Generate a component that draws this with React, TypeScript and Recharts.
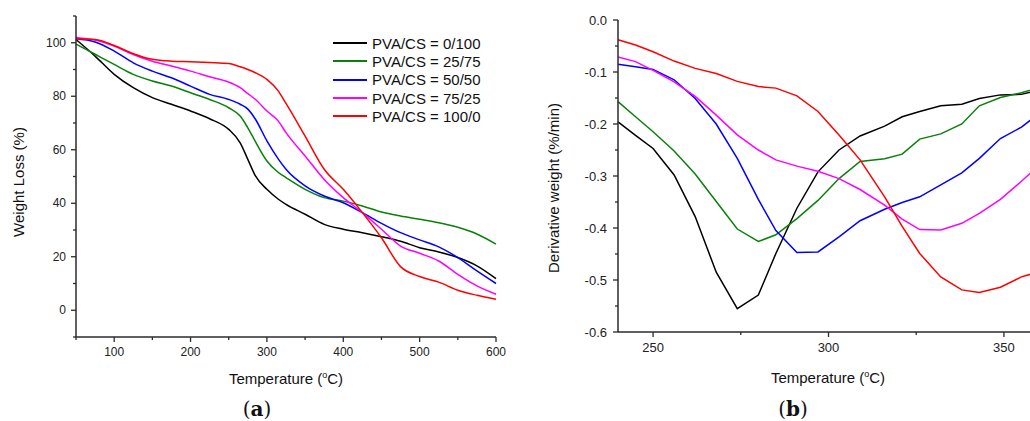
import { LineChart, Line, XAxis, YAxis } from "recharts";

// panel (a): TGA, weight loss vs temperature
const tgaTemps = [50, 75, 100, 125, 150, 175, 200, 225, 250, 265, 275, 285, 300, 315, 325, 350, 375, 400, 425, 450, 475, 500, 525, 550, 575, 600];
const tga0 = [101.2, 95, 88.2, 83.2, 79.5, 77, 74.5, 71.6, 67.6, 62.6, 56.4, 50.2, 45.2, 41.5, 39.6, 35.9, 32.1, 30.3, 29, 27.5, 25.8, 23.4, 21.8, 19.7, 16.6, 11.8];
const tga25 = [99.5, 95.7, 91.9, 88.2, 85.7, 83.8, 81.3, 78.8, 75.7, 72.6, 68.2, 63, 55.8, 51.5, 49.6, 45.2, 42.1, 40.8, 39, 36.7, 35.2, 34, 32.7, 31, 28.5, 24.7];
const tga50 = [101.5, 100.3, 96.9, 92.5, 89.4, 86.9, 83.8, 80.7, 78.8, 77, 75.2, 71.4, 63.3, 56.5, 52.7, 46.5, 42.7, 40.2, 36.5, 32.5, 29, 26.3, 23.7, 19.7, 14.7, 10];
const tga75 = [102, 101, 98.8, 95.6, 93.1, 91.3, 89.4, 87.3, 85.3, 83.2, 81, 78.8, 74.5, 70.7, 66.4, 57.7, 48.9, 42.1, 36.5, 30.3, 24, 21.3, 18.4, 13.4, 9.1, 6];
const tga100 = [101.5, 101.2, 99, 95.9, 93.8, 93.1, 92.9, 92.6, 92.2, 91, 90, 88.8, 86.3, 81.9, 77.3, 65.1, 52.7, 45.2, 36.5, 27.1, 16.3, 12.6, 10.5, 7.5, 5.6, 4.1];

// panel (b): DTG, derivative weight vs temperature
const dtgTemps = [240, 245, 250, 256, 262, 268, 274, 280, 285, 291, 297, 303, 309, 316, 321, 326, 332, 338, 343, 349, 355, 360];
const dtg0 = [-0.196, -0.222, -0.247, -0.298, -0.378, -0.485, -0.555, -0.529, -0.449, -0.362, -0.292, -0.25, -0.223, -0.204, -0.186, -0.176, -0.165, -0.162, -0.151, -0.144, -0.143, -0.135];
const dtg25 = [-0.157, -0.186, -0.215, -0.252, -0.296, -0.349, -0.402, -0.426, -0.413, -0.382, -0.347, -0.305, -0.272, -0.267, -0.258, -0.229, -0.219, -0.2, -0.165, -0.149, -0.14, -0.13];
const dtg50 = [-0.085, -0.09, -0.095, -0.115, -0.151, -0.2, -0.266, -0.345, -0.405, -0.447, -0.446, -0.417, -0.386, -0.364, -0.351, -0.34, -0.317, -0.294, -0.266, -0.228, -0.206, -0.18];
const dtg75 = [-0.071, -0.08, -0.097, -0.119, -0.147, -0.183, -0.221, -0.25, -0.269, -0.281, -0.291, -0.305, -0.326, -0.356, -0.383, -0.403, -0.404, -0.391, -0.372, -0.345, -0.31, -0.28];
const dtg100 = [-0.038, -0.048, -0.061, -0.079, -0.093, -0.103, -0.118, -0.128, -0.131, -0.146, -0.176, -0.221, -0.269, -0.34, -0.397, -0.449, -0.494, -0.519, -0.524, -0.514, -0.494, -0.484];

const seriesNames = ["PVA/CS = 0/100", "PVA/CS = 25/75", "PVA/CS = 50/50", "PVA/CS = 75/25", "PVA/CS = 100/0"];
const seriesColors = ["#000000", "#0a800a", "#0000ff", "#ff00ff", "#ff0000"];

const tgaXTicks = [50, 100, 150, 200, 250, 300, 350, 400, 450, 500, 550, 600];
const tgaXLabels = [100, 200, 300, 400, 500, 600];
const tgaYTicks = [-10, 0, 10, 20, 30, 40, 50, 60, 70, 80, 90, 100, 110];
const tgaYLabels = [0, 20, 40, 60, 80, 100];

const dtgXTicks = [250, 275, 300, 325, 350];
const dtgXLabels = [250, 300, 350];
const dtgYTicks = [-0.6, -0.55, -0.5, -0.45, -0.4, -0.35, -0.3, -0.25, -0.2, -0.15, -0.1, -0.05, 0];
const dtgYLabels = [-0.6, -0.5, -0.4, -0.3, -0.2, -0.1, 0];

const tgaData = tgaTemps.map((t, i) => ({ t, s0: tga0[i], s1: tga25[i], s2: tga50[i], s3: tga75[i], s4: tga100[i] }));
const dtgData = dtgTemps.map((t, i) => ({ t, s0: dtg0[i], s1: dtg25[i], s2: dtg50[i], s3: dtg75[i], s4: dtg100[i] }));

const FONT = "'Liberation Sans', Arial, sans-serif";
const AXIS = "#2b2b2b";

const near = (list: number[], v: number) => list.some((l) => Math.abs(l - v) < 1e-6);

const xTick = (labels: number[], size: number) => (props: any) => {
  const { x, y, payload } = props;
  const major = near(labels, payload.value);
  return (
    <g>
      <line x1={x} x2={x} y1={y} y2={y + (major ? 5 : 3)} stroke={AXIS} strokeWidth={1.3} />
      {major && (
        <text x={x} y={y + 15} textAnchor="middle" dominantBaseline="central" fontSize={size} fontFamily={FONT} fill="#222">
          {payload.value}
        </text>
      )}
    </g>
  );
};

const yTick = (labels: number[], fmt: (v: number) => string, gap: number, size: number) => (props: any) => {
  const { x, y, payload } = props;
  const major = near(labels, payload.value);
  return (
    <g>
      <line x1={x - (major ? 5 : 3)} x2={x} y1={y} y2={y} stroke={AXIS} strokeWidth={1.3} />
      {major && (
        <text x={x - gap} y={y} textAnchor="end" dominantBaseline="central" fontSize={size} fontFamily={FONT} fill="#222">
          {fmt(payload.value)}
        </text>
      )}
    </g>
  );
};

const Temp = () => (
  <span>
    Temperature (<sup style={{ fontSize: 9 }}>o</sup>C)
  </span>
);

const text = (left: number, top: number, rotate = 0): React.CSSProperties => ({
  position: "absolute",
  left,
  top,
  transform: `translate(-50%, -50%) rotate(${rotate}deg)`,
  whiteSpace: "nowrap",
  fontFamily: FONT,
  fontSize: 15,
  color: "#111",
  lineHeight: 1,
});

const panelTag = (left: number, letter: string) => (
  <div style={{ ...text(left, 409), fontFamily: "'DejaVu Serif', 'Liberation Serif', serif", fontSize: 20 }}>
    (<b>{letter}</b>)
  </div>
);

export default function App() {
  return (
    <div style={{ position: "absolute", left: 0, top: 0, width: 1030, height: 421, overflow: "hidden", background: "#fff" }}>
      <div style={{ position: "absolute", left: 0, top: 0 }}>
        <LineChart width={520} height={421} data={tgaData} margin={{ top: 16, right: 24, bottom: 54, left: 0 }}>
          <XAxis
            dataKey="t"
            type="number"
            domain={[50, 600]}
            ticks={tgaXTicks}
            interval={0}
            height={30}
            tickSize={0}
            tickMargin={0}
            tickLine={false}
            stroke={AXIS}
            strokeWidth={1.5}
            tick={xTick(tgaXLabels, 12)}
          />
          <YAxis
            type="number"
            domain={[-10, 110]}
            ticks={tgaYTicks}
            interval={0}
            width={76}
            tickSize={0}
            tickMargin={0}
            tickLine={false}
            stroke={AXIS}
            strokeWidth={1.5}
            tick={yTick(tgaYLabels, (v) => String(v), 10, 12)}
          />
          {seriesColors.map((c, i) => (
            <Line key={i} type="monotone" dataKey={`s${i}`} stroke={c} strokeWidth={1.5} dot={false} isAnimationActive={false} />
          ))}
        </LineChart>
      </div>

      <div style={{ position: "absolute", left: 520, top: 0 }}>
        <LineChart width={520} height={421} data={dtgData} margin={{ top: 20, right: 1, bottom: 59, left: 0 }}>
          <XAxis
            dataKey="t"
            type="number"
            domain={[240, 360]}
            ticks={dtgXTicks}
            interval={0}
            height={30}
            tickSize={0}
            tickMargin={0}
            tickLine={false}
            stroke={AXIS}
            strokeWidth={1.5}
            tick={xTick(dtgXLabels, 13)}
          />
          <YAxis
            type="number"
            domain={[-0.6, 0]}
            ticks={dtgYTicks}
            interval={0}
            width={98}
            tickSize={0}
            tickMargin={0}
            tickLine={false}
            stroke={AXIS}
            strokeWidth={1.5}
            tick={yTick(dtgYLabels, (v) => v.toFixed(1), 11, 13)}
          />
          {seriesColors.map((c, i) => (
            <Line key={i} type="linear" dataKey={`s${i}`} stroke={c} strokeWidth={1.5} dot={false} isAnimationActive={false} />
          ))}
        </LineChart>
      </div>

      {/* legend of panel (a) */}
      <div style={{ position: "absolute", left: 333, top: 34, fontFamily: FONT, fontSize: 15, color: "#111" }}>
        {seriesNames.map((n, i) => (
          <div key={n} style={{ display: "flex", alignItems: "center", height: 18.3 }}>
            <span style={{ display: "inline-block", width: 34, height: 2, background: seriesColors[i], marginRight: 5 }} />
            <span style={{ lineHeight: 1 }}>{n}</span>
          </div>
        ))}
      </div>

      <div style={text(286, 378)}>
        <Temp />
      </div>
      <div style={text(18, 182, -90)}>Weight Loss (%)</div>
      {panelTag(257, "a")}

      <div style={text(828, 377)}>
        <Temp />
      </div>
      <div style={text(553, 188, -90)}>Derivative weight (%/min)</div>
      {panelTag(793, "b")}
    </div>
  );
}
